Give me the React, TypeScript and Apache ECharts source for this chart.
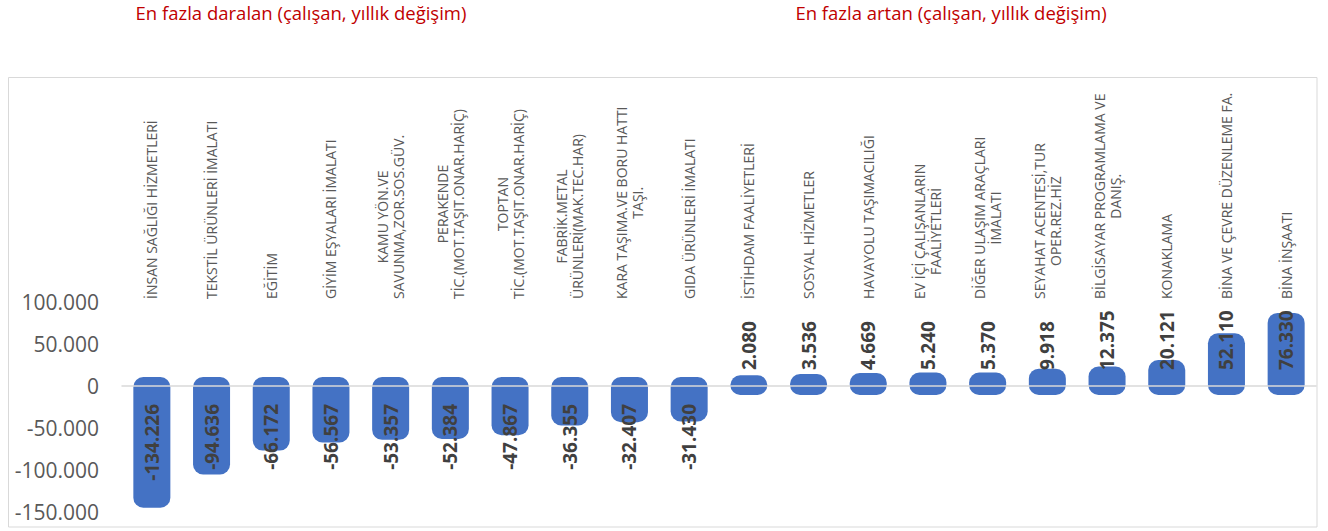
import React, { useEffect, useRef } from "react";
import * as echarts from "echarts";

const categories: string[] = [
  "İNSAN SAĞLIĞI HİZMETLERİ",
  "TEKSTİL ÜRÜNLERİ İMALATI",
  "EĞİTİM",
  "GİYİM EŞYALARI İMALATI",
  "KAMU YÖN.VE\nSAVUNMA,ZOR.SOS.GÜV.",
  "PERAKENDE\nTİC.(MOT.TAŞIT.ONAR.HARİÇ)",
  "TOPTAN\nTİC.(MOT.TAŞIT.ONAR.HARİÇ)",
  "FABRİK.METAL\nÜRÜNLERİ(MAK.TEC.HAR)",
  "KARA TAŞIMA.VE BORU HATTI\nTAŞI.",
  "GIDA ÜRÜNLERİ İMALATI",
  "İSTİHDAM FAALİYETLERİ",
  "SOSYAL HİZMETLER",
  "HAVAYOLU TAŞIMACILIĞI",
  "EV İÇİ ÇALIŞANLARIN\nFAALİYETLERİ",
  "DİĞER ULAŞIM ARAÇLARI\nİMALATI",
  "SEYAHAT ACENTESİ,TUR\nOPER.REZ.HİZ",
  "BİLGİSAYAR PROGRAMLAMA VE\nDANIŞ.",
  "KONAKLAMA",
  "BİNA VE ÇEVRE DÜZENLEME FA.",
  "BİNA İNŞAATI",
];

const values: number[] = [
  -134226, -94636, -66172, -56567, -53357, -52384, -47867, -36355, -32407, -31430,
  2080, 3536, 4669, 5240, 5370, 9918, 12375, 20121, 52110, 76330,
];

const titleLeft = "En fazla daralan (çalışan, yıllık değişim)";
const titleRight = "En fazla artan (çalışan, yıllık değişim)";

const yMin = -150000;
const yMax = 100000;
const yInterval = 50000;

const FONT = "'Open Sans', 'Noto Sans', sans-serif";

function fmt(v: number): string {
  const s = Math.abs(Math.round(v)).toString().replace(/\B(?=(\d{3})+(?!\d))/g, ".");
  return (v < 0 ? "-" : "") + s;
}

export default function App() {
  const ref = useRef<HTMLDivElement>(null);

  useEffect(() => {
    document.body.style.margin = "0";
    if (!ref.current) return;
    const chart = echarts.init(ref.current, null, { renderer: "svg" });

    const option: any = {
      animation: false,
      backgroundColor: "#ffffff",
      graphic: [
        {
          type: "rect",
          shape: { x: 8.5, y: 77.5, width: 1308.5, height: 449.5 },
          style: { fill: "none", stroke: "#d9d9d9", lineWidth: 1 },
          silent: true,
          z: -1,
        },
        {
          type: "text",
          x: 301,
          y: 12,
          style: {
            text: titleLeft,
            align: "center",
            verticalAlign: "middle",
            fill: "#c00000",
            font: `18.5px ${FONT}`,
          },
        },
        {
          type: "text",
          x: 951,
          y: 12,
          style: {
            text: titleRight,
            align: "center",
            verticalAlign: "middle",
            fill: "#c00000",
            font: `18.5px ${FONT}`,
          },
        },
      ],
      grid: { left: 122, right: 12, top: 302, bottom: 19, containLabel: false },
      xAxis: [
        {
          type: "category",
          position: "top",
          data: categories,
          axisLine: { show: false, onZero: false },
          axisTick: { show: false },
          splitLine: { show: false },
          axisLabel: {
            interval: 0,
            rotate: -90,
            margin: 3,
            color: "#595959",
            fontSize: 14,
            fontFamily: FONT,
            formatter: (v: string) =>
              v.split("\n").map((s) => `{c|${s}}`).join("\n"),
            rich: {
              c: {
                align: "center",
                color: "#595959",
                fontSize: 14,
                fontFamily: FONT,
                lineHeight: 16,
              },
            },
          },
        },
        {
          type: "category",
          position: "bottom",
          data: categories,
          z: 5,
          axisLine: { show: true, onZero: true, lineStyle: { color: "#d9d9d9", width: 1.5 } },
          axisTick: { show: false },
          axisLabel: { show: false },
          splitLine: { show: false },
        },
      ],
      yAxis: {
        type: "value",
        min: yMin,
        max: yMax,
        interval: yInterval,
        axisLine: { show: false },
        axisTick: { show: false },
        splitLine: { show: false },
        axisLabel: {
          margin: 23,
          color: "#595959",
          fontSize: 21,
          fontFamily: FONT,
          formatter: (v: number) => fmt(v),
        },
      },
      series: [
        {
          type: "custom",
          xAxisIndex: 0,
          yAxisIndex: 0,
          data: values.map((v, i) => [i, v]),
          encode: { x: 0, y: 1 },
          z: 2,
          renderItem: (params: any, api: any) => {
            const i = api.value(0);
            const v = api.value(1);
            const base = api.coord([i, 0]);
            const end = api.coord([i, v]);
            const band = api.size([1, 0])[0];
            const bw = band * 0.62;
            const ext = 9;
            const top = Math.min(base[1], end[1]) - ext;
            const bottom = Math.max(base[1], end[1]) + ext;
            const pos = v >= 0;
            return {
              type: "group",
              children: [
                {
                  type: "rect",
                  shape: { x: base[0] - bw / 2, y: top, width: bw, height: bottom - top, r: 10 },
                  style: { fill: "#4472c4" },
                },
                {
                  type: "text",
                  x: base[0],
                  y: pos ? base[1] - 16 : base[1] + 18,
                  rotation: Math.PI / 2,
                  z2: 10,
                  style: {
                    text: fmt(v),
                    align: pos ? "left" : "right",
                    verticalAlign: "middle",
                    fill: "#404040",
                    font: `bold 19px ${FONT}`,
                  },
                },
              ],
            };
          },
        },
      ],
    };

    chart.setOption(option);
    return () => {
      chart.dispose();
    };
  }, []);

  return <div ref={ref} style={{ width: 1328, height: 531 }} />;
}
